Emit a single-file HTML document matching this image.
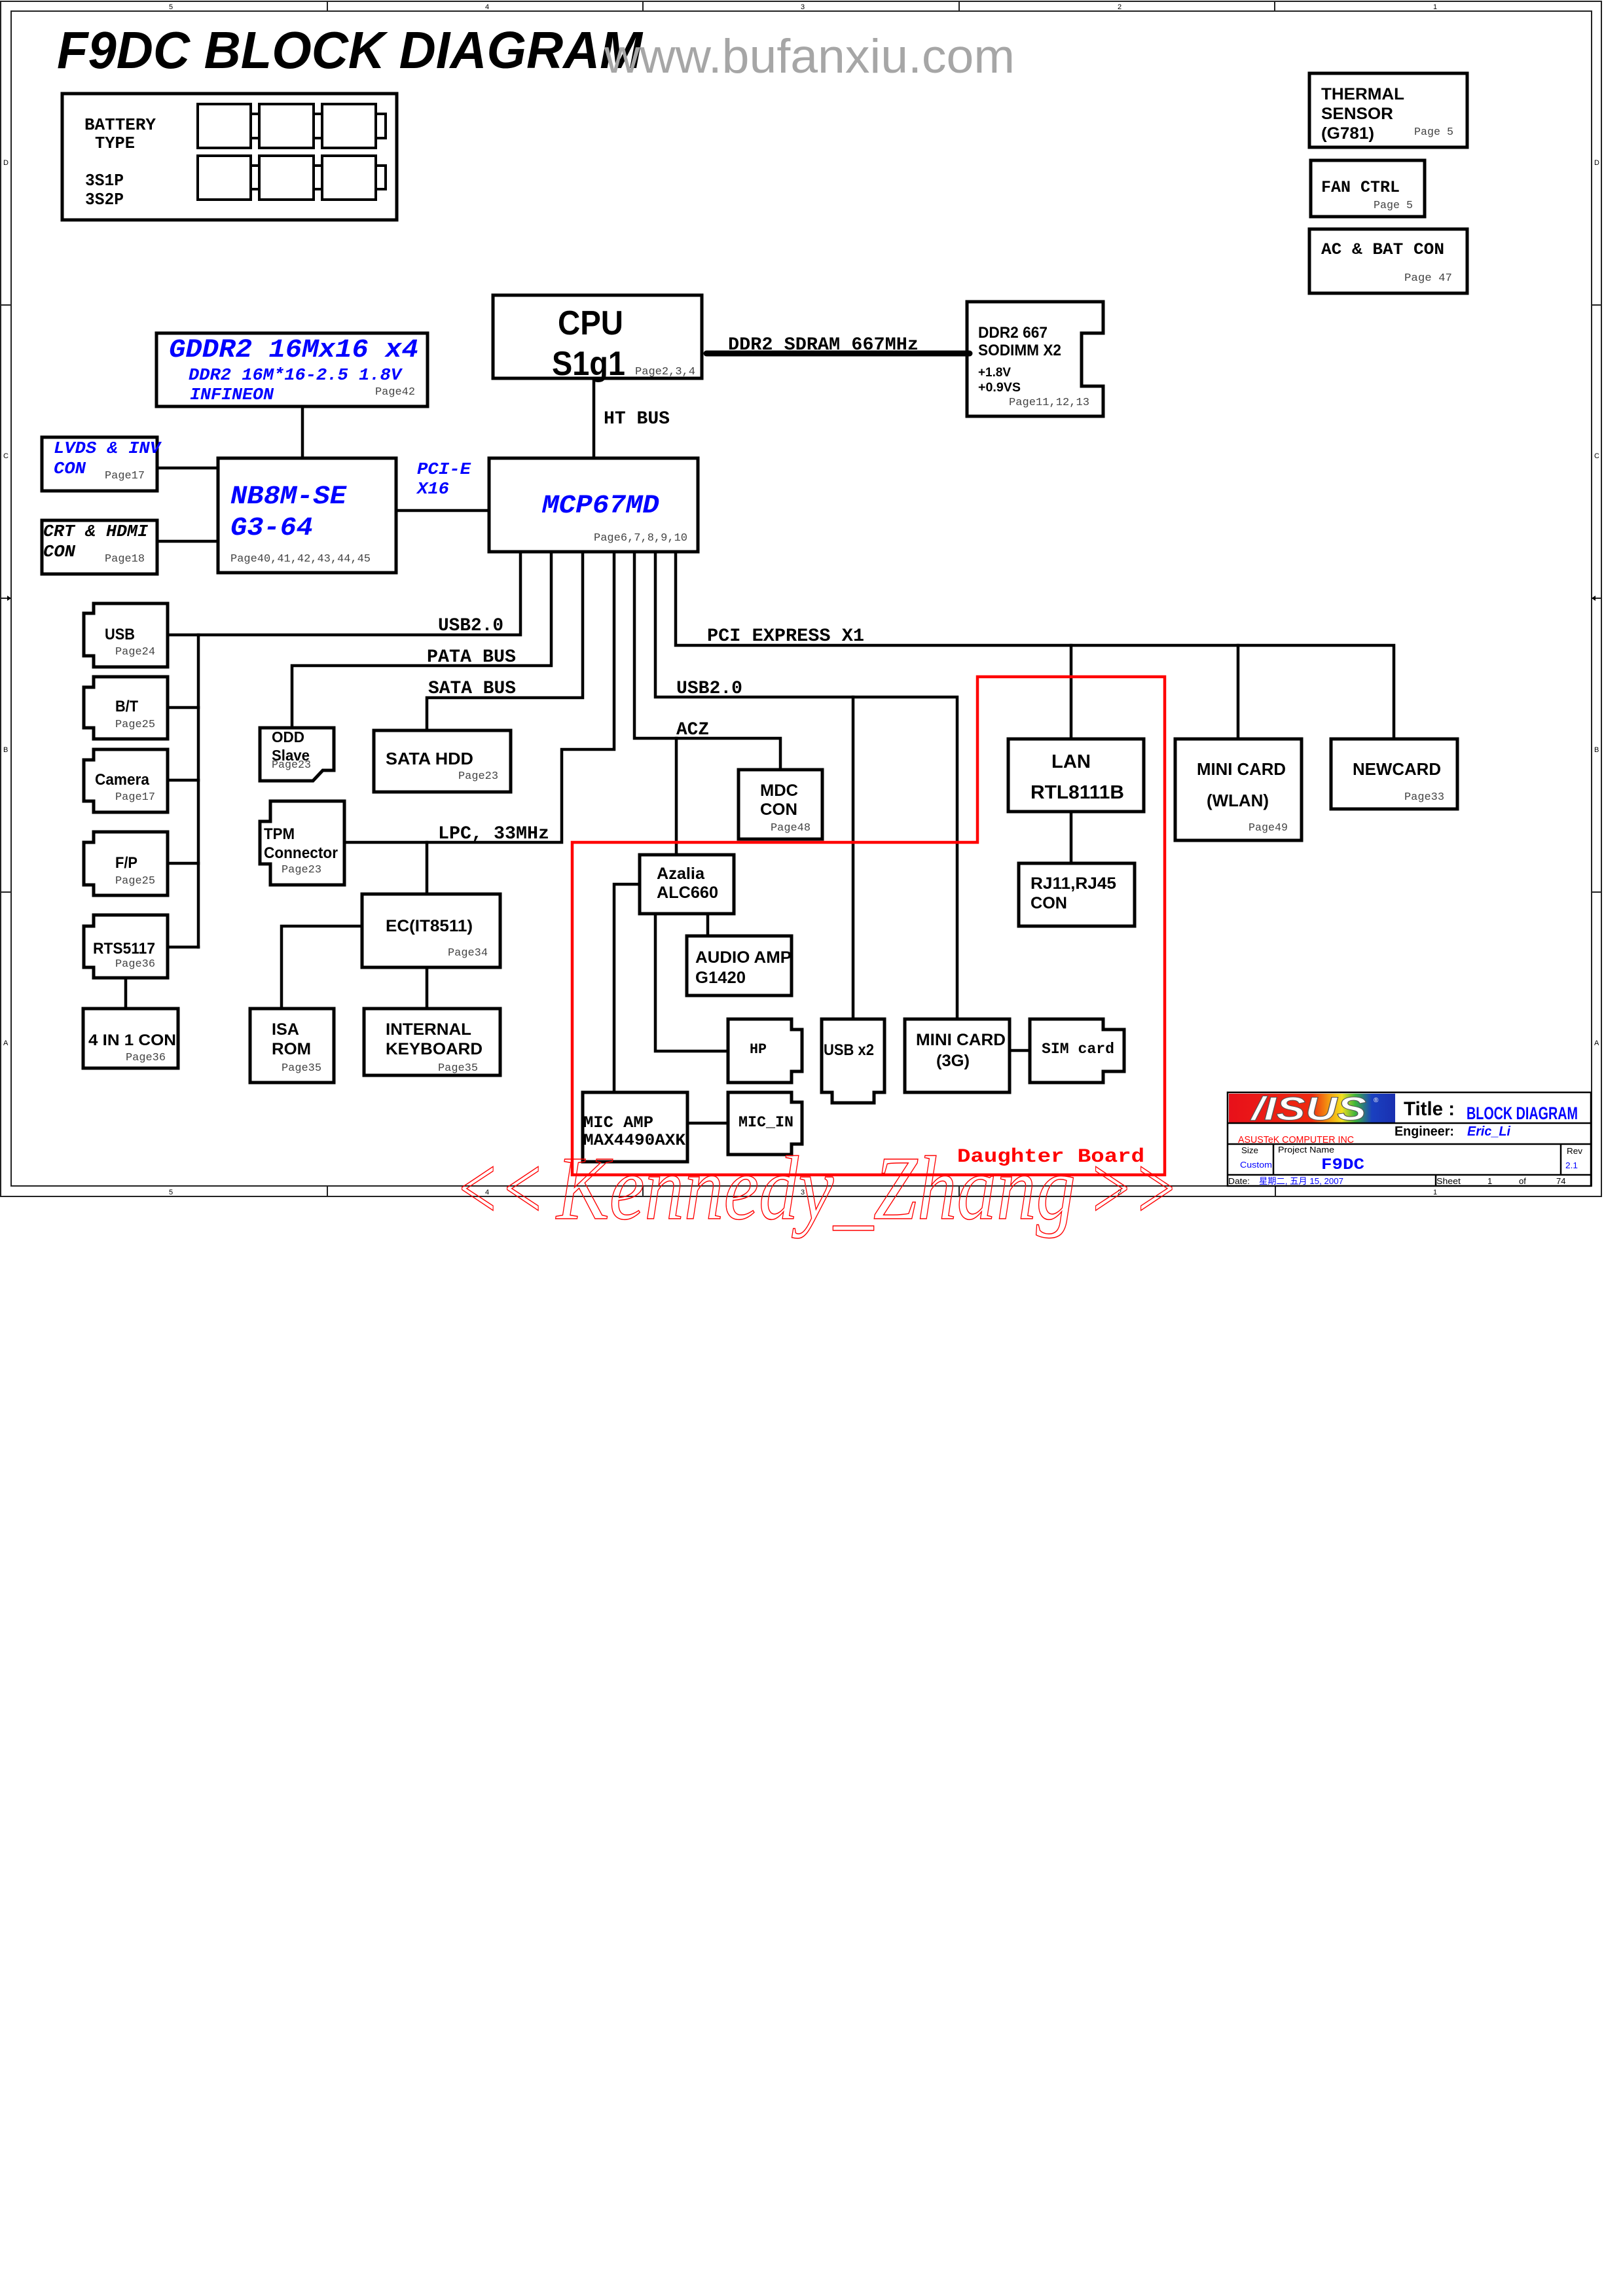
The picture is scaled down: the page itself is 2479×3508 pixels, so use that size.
<!DOCTYPE html>
<html><head><meta charset="utf-8"><title>F9DC BLOCK DIAGRAM</title>
<style>
html,body{margin:0;padding:0;background:#fff;}
svg{display:block;}
.b{font-family:"Liberation Sans",Arial,sans-serif;font-weight:bold;fill:#000;}
.m{font-family:"Liberation Mono","Courier New",monospace;font-weight:bold;fill:#000;}
.mi{font-family:"Liberation Mono","Courier New",monospace;font-weight:bold;font-style:italic;fill:#0000ff;}
.mik{font-family:"Liberation Mono","Courier New",monospace;font-weight:bold;font-style:italic;fill:#000;}
.p{font-family:"Liberation Mono","Courier New",monospace;font-size:17px;fill:#444;}
.s{font-family:"Liberation Sans",Arial,sans-serif;fill:#000;}
.bx{fill:none;stroke:#000;stroke-width:5;stroke-linejoin:miter;}
.ln{fill:none;stroke:#000;stroke-width:4.5;stroke-linejoin:miter;stroke-linecap:square;}
.fr{fill:none;stroke:#222;stroke-width:2;}
.tb{fill:none;stroke:#000;stroke-width:2.5;}
</style></head>
<body>
<svg width="2479" height="3508" viewBox="0 0 2479 3508" xmlns="http://www.w3.org/2000/svg">
<defs>
<linearGradient id="asus" x1="0" y1="0" x2="1" y2="0">
<stop offset="0" stop-color="#e8101a"/>
<stop offset="0.5" stop-color="#ee2a10"/>
<stop offset="0.6" stop-color="#f39a10"/>
<stop offset="0.68" stop-color="#f3e020"/>
<stop offset="0.76" stop-color="#3cb43c"/>
<stop offset="0.86" stop-color="#1a40c0"/>
<stop offset="1" stop-color="#1a30b0"/>
</linearGradient>
</defs>
<rect x="0" y="0" width="2479" height="3508" fill="#fff"/>

<!-- Frame -->
<rect class="fr" x="1" y="2" width="2445" height="1826"/>
<rect class="fr" x="17" y="17" width="2414" height="1795"/>
<g stroke="#222" stroke-width="2">
<line x1="500" y1="2" x2="500" y2="17"/><line x1="982" y1="2" x2="982" y2="17"/><line x1="1465" y1="2" x2="1465" y2="17"/><line x1="1947" y1="2" x2="1947" y2="17"/>
<line x1="500" y1="1812" x2="500" y2="1828"/><line x1="982" y1="1812" x2="982" y2="1828"/><line x1="1465" y1="1812" x2="1465" y2="1828"/><line x1="1948" y1="1812" x2="1948" y2="1828"/>
<line x1="1" y1="466" x2="17" y2="466"/><line x1="1" y1="914" x2="17" y2="914"/><line x1="1" y1="1363" x2="17" y2="1363"/>
<line x1="2431" y1="466" x2="2446" y2="466"/><line x1="2431" y1="914" x2="2446" y2="914"/><line x1="2431" y1="1363" x2="2446" y2="1363"/>
</g>
<polygon points="11,910 17,914 11,918" fill="#000"/>
<polygon points="2437,910 2431,914 2437,918" fill="#000"/>
<g class="s" font-size="11">
<text x="258" y="14">5</text><text x="741" y="14">4</text><text x="1223" y="14">3</text><text x="1707" y="14">2</text><text x="2189" y="14">1</text>
<text x="258" y="1825">5</text><text x="741" y="1825">4</text><text x="1223" y="1825">3</text><text x="1707" y="1825">2</text><text x="2189" y="1825">1</text>
<text x="5" y="252">D</text><text x="5" y="700">C</text><text x="5" y="1149">B</text><text x="5" y="1597">A</text>
<text x="2435" y="252">D</text><text x="2435" y="700">C</text><text x="2435" y="1149">B</text><text x="2435" y="1597">A</text>
</g>

<!-- Title -->
<text class="b" font-style="italic" font-size="80" x="87" y="104" textLength="894" lengthAdjust="spacingAndGlyphs">F9DC  BLOCK DIAGRAM</text>
<text x="923" y="111" font-family="Liberation Sans,Arial,sans-serif" font-size="73" fill="#a6a6a6" textLength="627" lengthAdjust="spacingAndGlyphs">www.bufanxiu.com</text>

<!-- Battery -->
<rect class="bx" x="95" y="143" width="511" height="193"/>
<g fill="none" stroke="#000" stroke-width="4">
<rect x="302" y="159" width="81" height="67"/><rect x="396" y="159" width="83" height="67"/><rect x="492" y="159" width="82" height="67"/>
<rect x="383" y="174" width="13" height="37"/><rect x="479" y="174" width="13" height="37"/><rect x="574" y="174" width="15" height="37"/>
<rect x="302" y="238" width="81" height="67"/><rect x="396" y="238" width="83" height="67"/><rect x="492" y="238" width="82" height="67"/>
<rect x="383" y="253" width="13" height="36"/><rect x="479" y="253" width="13" height="36"/><rect x="574" y="253" width="15" height="36"/>
</g>
<g class="m" font-size="26">
<text x="129" y="198" textLength="109" lengthAdjust="spacingAndGlyphs">BATTERY</text>
<text x="145" y="226" textLength="61" lengthAdjust="spacingAndGlyphs">TYPE</text>
<text x="130" y="283" textLength="59" lengthAdjust="spacingAndGlyphs">3S1P</text>
<text x="130" y="312" textLength="59" lengthAdjust="spacingAndGlyphs">3S2P</text>
</g>

<!-- Thermal / Fan / AC -->
<rect class="bx" x="2000" y="112" width="241" height="113"/>
<text class="b" font-size="25" x="2018" y="152" textLength="127" lengthAdjust="spacingAndGlyphs">THERMAL</text>
<text class="b" font-size="25" x="2018" y="182" textLength="110" lengthAdjust="spacingAndGlyphs">SENSOR</text>
<text class="b" font-size="25" x="2018" y="212" textLength="81" lengthAdjust="spacingAndGlyphs">(G781)</text>
<text class="p" x="2160" y="206" textLength="60" lengthAdjust="spacingAndGlyphs">Page 5</text>
<rect class="bx" x="2002" y="245" width="174" height="86"/>
<text class="m" font-size="25" x="2018" y="293" textLength="120" lengthAdjust="spacingAndGlyphs">FAN CTRL</text>
<text class="p" x="2098" y="318" textLength="60" lengthAdjust="spacingAndGlyphs">Page 5</text>
<rect class="bx" x="2000" y="350" width="241" height="98"/>
<text class="m" font-size="25" x="2018" y="388" textLength="188" lengthAdjust="spacingAndGlyphs">AC &amp; BAT CON</text>
<text class="p" x="2145" y="429" textLength="73" lengthAdjust="spacingAndGlyphs">Page 47</text>

<!-- GDDR2 -->
<rect class="bx" x="239" y="509" width="414" height="112"/>
<text class="mi" font-size="40" x="258" y="545" textLength="381" lengthAdjust="spacingAndGlyphs">GDDR2 16Mx16 x4</text>
<text class="mi" font-size="26" x="288" y="580" textLength="325" lengthAdjust="spacingAndGlyphs">DDR2 16M*16-2.5 1.8V</text>
<text class="mi" font-size="26" x="290" y="610" textLength="128" lengthAdjust="spacingAndGlyphs">INFINEON</text>
<text class="p" x="573" y="603" textLength="61" lengthAdjust="spacingAndGlyphs">Page42</text>
<line class="ln" x1="462" y1="621" x2="462" y2="700"/>

<!-- LVDS / CRT -->
<rect class="bx" x="64" y="668" width="176" height="82"/>
<text class="mi" font-size="26" x="82" y="692" textLength="163" lengthAdjust="spacingAndGlyphs">LVDS &amp; INV</text>
<text class="mi" font-size="26" x="82" y="723" textLength="49" lengthAdjust="spacingAndGlyphs">CON</text>
<text class="p" x="160" y="731" textLength="61" lengthAdjust="spacingAndGlyphs">Page17</text>
<line class="ln" x1="240" y1="715" x2="333" y2="715"/>
<rect class="bx" x="64" y="795" width="176" height="82"/>
<text class="mik" font-size="26" x="66" y="819" textLength="160" lengthAdjust="spacingAndGlyphs">CRT &amp; HDMI</text>
<text class="mik" font-size="26" x="66" y="850" textLength="49" lengthAdjust="spacingAndGlyphs">CON</text>
<text class="p" x="160" y="858" textLength="61" lengthAdjust="spacingAndGlyphs">Page18</text>
<line class="ln" x1="240" y1="827" x2="333" y2="827"/>

<!-- NB -->
<rect class="bx" x="333" y="700" width="272" height="175"/>
<text class="mi" font-size="40" x="352" y="769" textLength="177" lengthAdjust="spacingAndGlyphs">NB8M-SE</text>
<text class="mi" font-size="40" x="352" y="817" textLength="126" lengthAdjust="spacingAndGlyphs">G3-64</text>
<text class="p" x="352" y="858" textLength="214" lengthAdjust="spacingAndGlyphs">Page40,41,42,43,44,45</text>
<line class="ln" x1="605" y1="780" x2="747" y2="780"/>
<text class="mi" font-size="26" x="637" y="724" textLength="82" lengthAdjust="spacingAndGlyphs">PCI-E</text>
<text class="mi" font-size="26" x="637" y="754" textLength="49" lengthAdjust="spacingAndGlyphs">X16</text>

<!-- CPU -->
<rect class="bx" x="753" y="451" width="319" height="127"/>
<text class="b" font-size="52" x="852" y="511" textLength="100" lengthAdjust="spacingAndGlyphs">CPU</text>
<text class="b" font-size="52" x="843" y="573" textLength="112" lengthAdjust="spacingAndGlyphs">S1g1</text>
<text class="p" x="970" y="572" textLength="92" lengthAdjust="spacingAndGlyphs">Page2,3,4</text>
<line x1="1079" y1="540" x2="1481" y2="540" stroke="#000" stroke-width="9" stroke-linecap="round"/>
<text class="m" font-size="28" x="1112" y="534" textLength="291" lengthAdjust="spacingAndGlyphs">DDR2 SDRAM 667MHz</text>

<!-- DDR SODIMM -->
<polygon class="bx" points="1477,461 1685,461 1685,509 1652,509 1652,590 1685,590 1685,636 1477,636"/>
<text class="b" font-size="24" x="1494" y="516" textLength="106" lengthAdjust="spacingAndGlyphs">DDR2 667</text>
<text class="b" font-size="24" x="1494" y="543" textLength="127" lengthAdjust="spacingAndGlyphs">SODIMM X2</text>
<text class="b" font-size="19" x="1494" y="575" textLength="50" lengthAdjust="spacingAndGlyphs">+1.8V</text>
<text class="b" font-size="19" x="1494" y="598" textLength="65" lengthAdjust="spacingAndGlyphs">+0.9VS</text>
<text class="p" x="1541" y="619" textLength="123" lengthAdjust="spacingAndGlyphs">Page11,12,13</text>

<!-- HT bus -->
<line class="ln" x1="907" y1="578" x2="907" y2="700"/>
<text class="m" font-size="28" x="922" y="647" textLength="101" lengthAdjust="spacingAndGlyphs">HT BUS</text>

<!-- MCP -->
<rect class="bx" x="747" y="700" width="319" height="143"/>
<text class="mi" font-size="40" x="828" y="783" textLength="179" lengthAdjust="spacingAndGlyphs">MCP67MD</text>
<text class="p" x="907" y="826" textLength="143" lengthAdjust="spacingAndGlyphs">Page6,7,8,9,10</text>

<!-- MCP connectors -->
<polyline class="ln" points="795,843 795,970 256,970"/>
<text class="m" font-size="28" x="669" y="963" textLength="100" lengthAdjust="spacingAndGlyphs">USB2.0</text>
<polyline class="ln" points="842,843 842,1017 446,1017 446,1112"/>
<text class="m" font-size="28" x="652" y="1011" textLength="136" lengthAdjust="spacingAndGlyphs">PATA BUS</text>
<polyline class="ln" points="890,843 890,1066 652,1066 652,1116"/>
<text class="m" font-size="28" x="654" y="1059" textLength="134" lengthAdjust="spacingAndGlyphs">SATA BUS</text>
<polyline class="ln" points="938,843 938,1145 858,1145 858,1287 526,1287"/>
<line class="ln" x1="652" y1="1287" x2="652" y2="1366"/>
<text class="m" font-size="28" x="669" y="1281" textLength="170" lengthAdjust="spacingAndGlyphs">LPC, 33MHz</text>
<polyline class="ln" points="969,843 969,1128 1192,1128 1192,1176"/>
<line class="ln" x1="1033" y1="1128" x2="1033" y2="1306"/>
<text class="m" font-size="28" x="1033" y="1122" textLength="50" lengthAdjust="spacingAndGlyphs">ACZ</text>
<polyline class="ln" points="1001,843 1001,1065 1462,1065 1462,1557"/>
<line class="ln" x1="1303" y1="1065" x2="1303" y2="1557"/>
<text class="m" font-size="28" x="1033" y="1059" textLength="101" lengthAdjust="spacingAndGlyphs">USB2.0</text>
<polyline class="ln" points="1032,843 1032,986 2129,986 2129,1129"/>
<line class="ln" x1="1636" y1="986" x2="1636" y2="1129"/>
<line class="ln" x1="1891" y1="986" x2="1891" y2="1129"/>
<text class="m" font-size="28" x="1080" y="979" textLength="240" lengthAdjust="spacingAndGlyphs">PCI EXPRESS X1</text>

<!-- USB column -->
<line class="ln" x1="303" y1="970" x2="303" y2="1447"/>
<polygon class="bx" points="143,922 256,922 256,1019 143,1019 143,1002 128,1002 128,937 143,937"/>
<text class="b" font-size="24" x="160" y="977" textLength="46" lengthAdjust="spacingAndGlyphs">USB</text>
<text class="p" x="176" y="1000" textLength="61" lengthAdjust="spacingAndGlyphs">Page24</text>
<polygon class="bx" points="143,1034 256,1034 256,1129 143,1129 143,1112 128,1112 128,1050 143,1050"/>
<text class="b" font-size="24" x="176" y="1087" textLength="35" lengthAdjust="spacingAndGlyphs">B/T</text>
<text class="p" x="176" y="1111" textLength="61" lengthAdjust="spacingAndGlyphs">Page25</text>
<line class="ln" x1="256" y1="1081" x2="303" y2="1081"/>
<polygon class="bx" points="143,1145 256,1145 256,1241 143,1241 143,1224 128,1224 128,1161 143,1161"/>
<text class="b" font-size="24" x="145" y="1199" textLength="83" lengthAdjust="spacingAndGlyphs">Camera</text>
<text class="p" x="176" y="1222" textLength="61" lengthAdjust="spacingAndGlyphs">Page17</text>
<line class="ln" x1="256" y1="1192" x2="303" y2="1192"/>
<polygon class="bx" points="143,1271 256,1271 256,1368 143,1368 143,1352 128,1352 128,1287 143,1287"/>
<text class="b" font-size="24" x="176" y="1326" textLength="34" lengthAdjust="spacingAndGlyphs">F/P</text>
<text class="p" x="176" y="1350" textLength="61" lengthAdjust="spacingAndGlyphs">Page25</text>
<line class="ln" x1="256" y1="1319" x2="303" y2="1319"/>
<polygon class="bx" points="143,1398 256,1398 256,1494 143,1494 143,1478 128,1478 128,1415 143,1415"/>
<text class="b" font-size="24" x="142" y="1457" textLength="95" lengthAdjust="spacingAndGlyphs">RTS5117</text>
<text class="p" x="176" y="1477" textLength="61" lengthAdjust="spacingAndGlyphs">Page36</text>
<line class="ln" x1="256" y1="1447" x2="303" y2="1447"/>
<line class="ln" x1="192" y1="1494" x2="192" y2="1541"/>
<rect class="bx" x="127" y="1541" width="145" height="91"/>
<text class="b" font-size="24" x="135" y="1597" textLength="134" lengthAdjust="spacingAndGlyphs">4 IN 1 CON</text>
<text class="p" x="192" y="1620" textLength="61" lengthAdjust="spacingAndGlyphs">Page36</text>

<!-- ODD -->
<polygon class="bx" points="397,1112 510,1112 510,1177 493,1177 478,1193 397,1193"/>
<text class="b" font-size="23" x="415" y="1134" textLength="50" lengthAdjust="spacingAndGlyphs">ODD</text>
<text class="b" font-size="23" x="415" y="1162" textLength="58" lengthAdjust="spacingAndGlyphs">Slave</text>
<text class="p" x="415" y="1173" textLength="60" lengthAdjust="spacingAndGlyphs">Page23</text>

<!-- SATA HDD -->
<rect class="bx" x="571" y="1116" width="209" height="94"/>
<text class="b" font-size="26" x="589" y="1168" textLength="134" lengthAdjust="spacingAndGlyphs">SATA HDD</text>
<text class="p" x="700" y="1190" textLength="61" lengthAdjust="spacingAndGlyphs">Page23</text>

<!-- TPM -->
<polygon class="bx" points="413,1224 526,1224 526,1352 413,1352 413,1320 397,1320 397,1255 413,1255"/>
<text class="b" font-size="24" x="403" y="1282" textLength="47" lengthAdjust="spacingAndGlyphs">TPM</text>
<text class="b" font-size="24" x="403" y="1311" textLength="113" lengthAdjust="spacingAndGlyphs">Connector</text>
<text class="p" x="430" y="1333" textLength="61" lengthAdjust="spacingAndGlyphs">Page23</text>

<!-- EC -->
<rect class="bx" x="553" y="1366" width="211" height="112"/>
<text class="b" font-size="25" x="589" y="1423" textLength="133" lengthAdjust="spacingAndGlyphs">EC(IT8511)</text>
<text class="p" x="684" y="1460" textLength="61" lengthAdjust="spacingAndGlyphs">Page34</text>
<polyline class="ln" points="553,1415 430,1415 430,1541"/>
<line class="ln" x1="652" y1="1478" x2="652" y2="1541"/>
<rect class="bx" x="382" y="1541" width="128" height="113"/>
<text class="b" font-size="25" x="415" y="1581" textLength="42" lengthAdjust="spacingAndGlyphs">ISA</text>
<text class="b" font-size="25" x="415" y="1611" textLength="60" lengthAdjust="spacingAndGlyphs">ROM</text>
<text class="p" x="430" y="1636" textLength="61" lengthAdjust="spacingAndGlyphs">Page35</text>
<rect class="bx" x="556" y="1541" width="208" height="102"/>
<text class="b" font-size="25" x="589" y="1581" textLength="131" lengthAdjust="spacingAndGlyphs">INTERNAL</text>
<text class="b" font-size="25" x="589" y="1611" textLength="148" lengthAdjust="spacingAndGlyphs">KEYBOARD</text>
<text class="p" x="669" y="1636" textLength="61" lengthAdjust="spacingAndGlyphs">Page35</text>

<!-- MDC -->
<rect class="bx" x="1128" y="1176" width="128" height="106"/>
<text class="b" font-size="25" x="1161" y="1216" textLength="58" lengthAdjust="spacingAndGlyphs">MDC</text>
<text class="b" font-size="25" x="1161" y="1245" textLength="57" lengthAdjust="spacingAndGlyphs">CON</text>
<text class="p" x="1177" y="1269" textLength="61" lengthAdjust="spacingAndGlyphs">Page48</text>

<!-- Daughter board outline -->
<polygon points="874,1287 1493,1287 1493,1034 1779,1034 1779,1795 874,1795" fill="none" stroke="#ff0000" stroke-width="4.5"/>

<!-- Azalia -->
<rect class="bx" x="977" y="1306" width="144" height="90"/>
<text class="b" font-size="25" x="1003" y="1343" textLength="73" lengthAdjust="spacingAndGlyphs">Azalia</text>
<text class="b" font-size="25" x="1003" y="1372" textLength="94" lengthAdjust="spacingAndGlyphs">ALC660</text>
<polyline class="ln" points="977,1351 938,1351 938,1669"/>
<line class="ln" x1="1081" y1="1396" x2="1081" y2="1430"/>
<polyline class="ln" points="1001,1396 1001,1606 1112,1606"/>
<rect class="bx" x="1049" y="1430" width="160" height="91"/>
<text class="b" font-size="25" x="1062" y="1471" textLength="147" lengthAdjust="spacingAndGlyphs">AUDIO AMP</text>
<text class="b" font-size="25" x="1062" y="1502" textLength="77" lengthAdjust="spacingAndGlyphs">G1420</text>

<!-- HP -->
<polygon class="bx" points="1112,1557 1209,1557 1209,1573 1225,1573 1225,1637 1209,1637 1209,1654 1112,1654"/>
<text class="m" font-size="22" x="1145" y="1609" textLength="26" lengthAdjust="spacingAndGlyphs">HP</text>

<!-- USB x2 -->
<polygon class="bx" points="1255,1557 1351,1557 1351,1669 1335,1669 1335,1685 1271,1685 1271,1669 1255,1669"/>
<text class="b" font-size="24" x="1258" y="1612" textLength="77" lengthAdjust="spacingAndGlyphs">USB x2</text>

<!-- MINI CARD 3G -->
<rect class="bx" x="1382" y="1557" width="160" height="112"/>
<text class="b" font-size="25" x="1399" y="1597" textLength="137" lengthAdjust="spacingAndGlyphs">MINI CARD</text>
<text class="b" font-size="25" x="1430" y="1629" textLength="51" lengthAdjust="spacingAndGlyphs">(3G)</text>
<line class="ln" x1="1542" y1="1605" x2="1573" y2="1605"/>

<!-- SIM card -->
<polygon class="bx" points="1573,1557 1685,1557 1685,1573 1717,1573 1717,1637 1685,1637 1685,1654 1573,1654"/>
<text class="m" font-size="23" x="1591" y="1609" textLength="111" lengthAdjust="spacingAndGlyphs">SIM card</text>

<!-- MIC AMP / MIC_IN -->
<rect class="bx" x="890" y="1669" width="160" height="106"/>
<text class="m" font-size="25" x="891" y="1722" textLength="107" lengthAdjust="spacingAndGlyphs">MIC AMP</text>
<text class="m" font-size="25" x="891" y="1749" textLength="156" lengthAdjust="spacingAndGlyphs">MAX4490AXK</text>
<line class="ln" x1="1050" y1="1716" x2="1112" y2="1716"/>
<polygon class="bx" points="1112,1669 1209,1669 1209,1684 1225,1684 1225,1748 1209,1748 1209,1764 1112,1764"/>
<text class="m" font-size="23" x="1128" y="1721" textLength="84" lengthAdjust="spacingAndGlyphs">MIC_IN</text>

<text class="m" font-size="30" x="1462" y="1775" fill="#ff0000" style="fill:#ff0000" textLength="286" lengthAdjust="spacingAndGlyphs">Daughter Board</text>

<!-- LAN -->
<rect class="bx" x="1540" y="1129" width="207" height="111"/>
<text class="b" font-size="29" x="1606" y="1173" textLength="60" lengthAdjust="spacingAndGlyphs">LAN</text>
<text class="b" font-size="29" x="1574" y="1220" textLength="143" lengthAdjust="spacingAndGlyphs">RTL8111B</text>
<line class="ln" x1="1636" y1="1240" x2="1636" y2="1319"/>
<rect class="bx" x="1556" y="1319" width="177" height="96"/>
<text class="b" font-size="25" x="1574" y="1358" textLength="131" lengthAdjust="spacingAndGlyphs">RJ11,RJ45</text>
<text class="b" font-size="25" x="1574" y="1388" textLength="56" lengthAdjust="spacingAndGlyphs">CON</text>

<!-- MINI CARD WLAN -->
<rect class="bx" x="1795" y="1129" width="193" height="155"/>
<text class="b" font-size="26" x="1828" y="1184" textLength="136" lengthAdjust="spacingAndGlyphs">MINI CARD</text>
<text class="b" font-size="26" x="1843" y="1232" textLength="95" lengthAdjust="spacingAndGlyphs">(WLAN)</text>
<text class="p" x="1907" y="1269" textLength="60" lengthAdjust="spacingAndGlyphs">Page49</text>

<!-- NEWCARD -->
<rect class="bx" x="2033" y="1129" width="193" height="107"/>
<text class="b" font-size="26" x="2066" y="1184" textLength="135" lengthAdjust="spacingAndGlyphs">NEWCARD</text>
<text class="p" x="2145" y="1222" textLength="61" lengthAdjust="spacingAndGlyphs">Page33</text>

<!-- Title block -->
<rect x="1877" y="1671" width="254" height="45" fill="url(#asus)"/>
<text x="1912" y="1711" font-family="Liberation Sans,Arial,sans-serif" font-weight="bold" font-style="italic" font-size="50" fill="#fff" stroke="#555" stroke-width="1" textLength="175" lengthAdjust="spacingAndGlyphs">/ISUS</text>
<text x="2098" y="1684" font-family="Liberation Sans,Arial,sans-serif" font-size="10" fill="#fff">®</text>
<rect class="tb" x="1875" y="1669" width="555" height="143"/>
<line class="tb" x1="1875" y1="1716" x2="2430" y2="1716"/>
<line class="tb" x1="1875" y1="1748" x2="2430" y2="1748"/>
<line class="tb" x1="1875" y1="1795" x2="2430" y2="1795"/>
<line class="tb" x1="1945" y1="1748" x2="1945" y2="1795"/>
<line class="tb" x1="2384" y1="1748" x2="2384" y2="1795"/>
<line class="tb" x1="2193" y1="1795" x2="2193" y2="1812"/>
<text class="b" font-size="30" x="2144" y="1704" textLength="78" lengthAdjust="spacingAndGlyphs">Title :</text>
<text class="b" font-size="27" x="2240" y="1710" style="fill:#0000ff" textLength="170" lengthAdjust="spacingAndGlyphs">BLOCK DIAGRAM</text>
<text class="b" font-size="20" x="2130" y="1735" textLength="91" lengthAdjust="spacingAndGlyphs">Engineer:</text>
<text class="b" font-size="20" font-style="italic" x="2241" y="1735" style="fill:#0000ff" textLength="66" lengthAdjust="spacingAndGlyphs">Eric_Li</text>
<text class="s" font-size="15" x="1891" y="1746" style="fill:#ff0000" textLength="177" lengthAdjust="spacingAndGlyphs">ASUSTeK COMPUTER INC</text>
<text class="s" font-size="13" x="1896" y="1762" textLength="26" lengthAdjust="spacingAndGlyphs">Size</text>
<text class="s" font-size="13" x="1894" y="1784" style="fill:#0000ff" textLength="49" lengthAdjust="spacingAndGlyphs">Custom</text>
<text class="s" font-size="13" x="1952" y="1761" textLength="86" lengthAdjust="spacingAndGlyphs">Project Name</text>
<text class="m" font-size="24" x="2018" y="1786" style="fill:#0000ff" textLength="66" lengthAdjust="spacingAndGlyphs">F9DC</text>
<text class="s" font-size="13" x="2393" y="1763" textLength="24" lengthAdjust="spacingAndGlyphs">Rev</text>
<text class="s" font-size="13" x="2391" y="1785" style="fill:#0000ff" textLength="19" lengthAdjust="spacingAndGlyphs">2.1</text>
<text class="s" font-size="13" x="1876" y="1809" textLength="33" lengthAdjust="spacingAndGlyphs">Date:</text>
<text x="1923" y="1809" font-family="Liberation Sans,'Noto Sans CJK SC',sans-serif" font-size="13" fill="#0000ff" textLength="129" lengthAdjust="spacingAndGlyphs">星期二, 五月 15, 2007</text>
<text class="s" font-size="13" x="2194" y="1809" textLength="37" lengthAdjust="spacingAndGlyphs">Sheet</text>
<text class="s" font-size="13" x="2272" y="1809">1</text>
<text class="s" font-size="13" x="2320" y="1809">of</text>
<text class="s" font-size="13" x="2377" y="1809">74</text>

<!-- Kennedy watermark -->
<g font-family="Liberation Serif,'Times New Roman',serif" font-style="italic" fill="none" stroke="#ff0000" stroke-width="1.5">
<text x="694" y="1862" font-size="139" textLength="138" lengthAdjust="spacingAndGlyphs">&lt;&lt;</text>
<text x="850" y="1862" font-size="139" textLength="793" lengthAdjust="spacingAndGlyphs">Kennedy_Zhang</text>
<text x="1662" y="1862" font-size="139" textLength="138" lengthAdjust="spacingAndGlyphs">&gt;&gt;</text>
</g>
</svg>
</body></html>
